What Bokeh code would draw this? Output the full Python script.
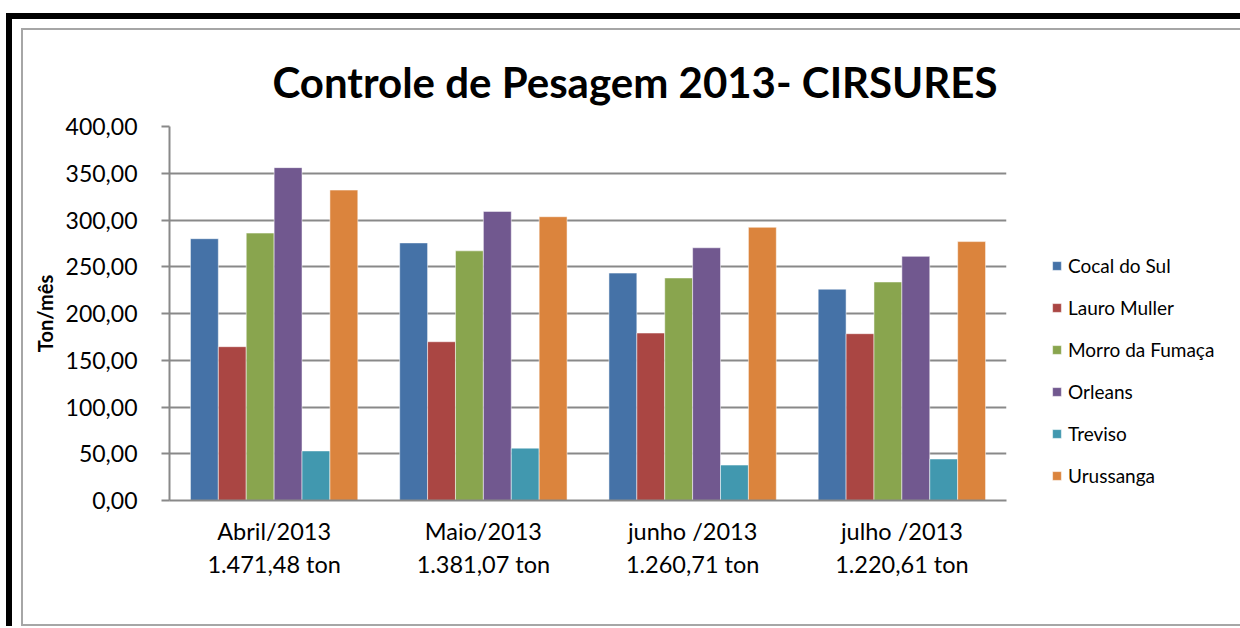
from bokeh.plotting import figure
from bokeh.layouts import column
from bokeh.models import (ColumnDataSource, FactorRange, Legend, LegendItem,
                          CustomJSTickFormatter, FixedTicker, Range1d)
from bokeh.transform import dodge
from bokeh.embed import file_html
from bokeh.resources import INLINE

# ---- data ----
months = ["Abril/2013", "Maio/2013", "junho /2013", "julho /2013"]
totals = ["1.471,48 ton", "1.381,07 ton", "1.260,71 ton", "1.220,61 ton"]
series_names = ["Cocal do Sul", "Lauro Muller", "Morro da Fumaça", "Orleans", "Treviso", "Urussanga"]
cocal = [280.0, 275.5, 243.2, 226.0]
lauro = [164.5, 169.8, 179.1, 178.4]
morro = [286.0, 267.0, 238.0, 233.7]
orleans = [356.0, 309.2, 270.3, 261.1]
treviso = [53.0, 56.0, 37.9, 44.4]
urussanga = [332.0, 303.5, 292.2, 276.9]
colors = ["#4572A7", "#AA4643", "#89A54E", "#71588F", "#4198AF", "#DB843D"]
y_ticks = [0, 50, 100, 150, 200, 250, 300, 350, 400]

series = [cocal, lauro, morro, orleans, treviso, urussanga]
factors = [f"{m}\n{t}" for m, t in zip(months, totals)]

FONT = "Lato"
GRID = "#898989"

p = figure(x_range=FactorRange(*factors), y_range=Range1d(0, 400),
           frame_width=837, frame_height=374,
           output_backend="svg", toolbar_location=None,
           min_border_left=146, min_border_right=226, min_border_top=96,
           min_border_bottom=124, outline_line_color=None,
           background_fill_color="white", border_fill_color="white")

p.title.text = "Controle de Pesagem 2013- CIRSURES"
p.title.align = "left"
p.title.offset = 103
p.title.standoff = 40
p.title.text_font = FONT
p.title.text_font_style = "bold"
p.title.text_font_size = "42px"
p.title.text_color = "black"

p.xgrid.visible = False
p.ygrid.grid_line_color = GRID
p.ygrid.grid_line_width = 2

p.yaxis.ticker = FixedTicker(ticks=y_ticks)
p.yaxis.formatter = CustomJSTickFormatter(code="return tick.toFixed(2).replace('.', ',');")
p.yaxis.axis_line_color = GRID
p.yaxis.axis_line_width = 2
p.yaxis.major_tick_line_color = GRID
p.yaxis.major_tick_line_width = 2
p.yaxis.major_tick_out = 8
p.yaxis.major_tick_in = 0
p.yaxis.minor_tick_line_color = None
p.yaxis.major_label_text_font = FONT
p.yaxis.major_label_text_font_size = "23px"
p.yaxis.major_label_text_color = "black"
p.yaxis.major_label_standoff = 24
p.yaxis.axis_label = "Ton/mês"
p.yaxis.axis_label_text_font = FONT
p.yaxis.axis_label_text_font_style = "bold"
p.yaxis.axis_label_text_font_size = "20px"
p.yaxis.axis_label_text_color = "black"
p.yaxis.axis_label_standoff = 6

p.xaxis.axis_line_color = GRID
p.xaxis.axis_line_width = 2
p.xaxis.major_tick_line_color = None
p.xaxis.major_tick_out = 0
p.xaxis.major_tick_in = 0
p.xaxis.major_label_text_font = FONT
p.xaxis.major_label_text_font_size = "23.5px"
p.xaxis.major_label_text_color = "black"
p.xaxis.major_label_text_line_height = 1.2
p.xaxis.major_label_standoff = 16

bar_w = 0.1333
items = []
for i, (name, vals, col) in enumerate(zip(series_names, series, colors)):
    src = ColumnDataSource(dict(x=factors, top=vals))
    r = p.vbar(x=dodge("x", (i - 2.5) * bar_w, range=p.x_range), top="top",
               width=bar_w, source=src, fill_color=col, line_color="white",
               line_alpha=0.5, line_width=1)
    items.append(LegendItem(label=name, renderers=[r]))

legend = Legend(items=items, location=(45, 13), glyph_width=11, glyph_height=11,
                label_standoff=6, label_height=22, spacing=19, padding=0, margin=0,
                border_line_color=None, background_fill_alpha=0,
                label_text_font=FONT, label_text_font_size="19px",
                label_text_color="black")
p.add_layout(legend, "right")

inner = column(p, styles={"border-top": "2px solid #a6a6a6",
                          "border-left": "2px solid #a6a6a6",
                          "border-bottom": "2px solid #a6a6a6"})
outer = column(inner, styles={"border-top": "6px solid black",
                              "border-left": "6px solid black",
                              "padding-top": "9px", "padding-left": "9px",
                              "margin-top": "13px", "margin-left": "6px"})

open("out.html", "w").write(file_html(outer, INLINE))
